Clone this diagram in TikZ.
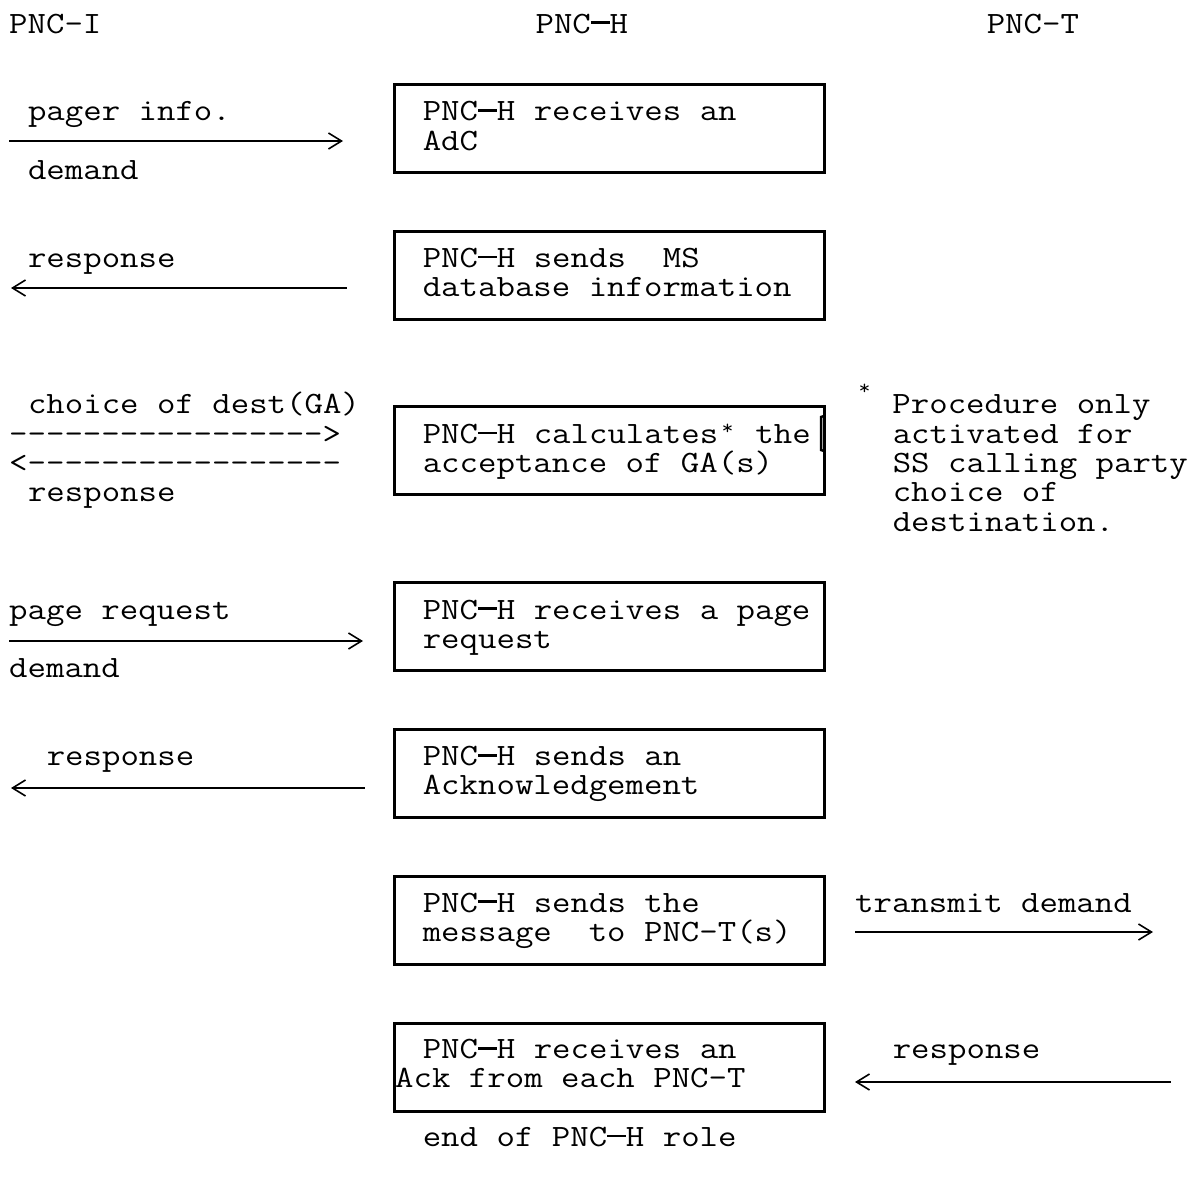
\documentclass[tikz,border=0pt]{standalone}
\usepackage{fontspec}
\usetikzlibrary{arrows.meta}
\newcommand\tx[1]{\scalebox{1.155}[1]{#1}}
\newcommand\emd{\makebox[16.275pt]{\rule[9pt]{16.275pt}{2.6pt}}}
\newcommand\boxstar{\makebox[16.275pt]{\raisebox{9pt}{\fontsize{20}{20}\selectfont *}}}
\newcommand\notestar{\makebox[16.275pt]{\raisebox{19pt}{\fontsize{20}{20}\selectfont *}}}
\begin{document}
\begin{tikzpicture}[x=1pt,y=-1pt,
  txt/.style={font=\ttfamily\fontsize{31}{29.3}\selectfont, inner sep=0pt, anchor=base west},
  pbox/.style={draw, line width=2.5pt, minimum width=430pt, minimum height=88pt, anchor=north west, inner sep=0pt},
  conn/.style={line width=2pt},
  tipR/.style={conn, -{Straight Barb[length=13pt,width=16pt,line width=1.6pt]}},
  tipL/.style={conn, {Straight Barb[length=13pt,width=16pt,line width=1.6pt]}-}
]
\fill[white] (0,0) rectangle (1192,1178);
\useasboundingbox (0,0) rectangle (1192,1178);

% headers
\node[txt] (hI) at (9,33) {\tx{PNC-I}};
\node[txt] (hH) at (535.4,33) {\tx{PNC\emd H}};
\node[txt] (hT) at (986.6,33) {\tx{PNC-T}};

% boxes
\node[pbox] (b1) at (393,83) {};
\node[pbox] (b2) at (393,230) {};
\node[pbox] (b3) at (393,405) {};
\node[pbox] (b4) at (393,581) {};
\node[pbox] (b5) at (393,728) {};
\node[pbox] (b6) at (393,875) {};
\node[pbox] (b7) at (393,1022) {};
\draw[line width=2.5pt] (824,416) -- (821,417) -- (821,450) -- (824,451);

% box texts
\node[txt] (t1a) at (422.6,120.9) {\tx{PNC\emd H receives an}};
\node[txt] (t1b) at (422.6,150.2) {\tx{AdC}};
\node[txt] (t2a) at (422.6,267.4) {\tx{PNC\emd H sends\ \ MS}};
\node[txt] (t2b) at (422.6,296.7) {\tx{database information}};
\node[txt] (t3a) at (422.6,443.2) {\tx{PNC\emd H calculates\boxstar\ the}};
\node[txt] (t3b) at (422.6,472.5) {\tx{acceptance of GA(s)}};
\node[txt] (t4a) at (422.6,619) {\tx{PNC\emd H receives a page}};
\node[txt] (t4b) at (422.6,648.3) {\tx{request}};
\node[txt] (t5a) at (422.6,765.5) {\tx{PNC\emd H sends an}};
\node[txt] (t5b) at (422.6,794.8) {\tx{Acknowledgement}};
\node[txt] (t6a) at (422.6,912) {\tx{PNC\emd H sends the}};
\node[txt] (t6b) at (422.6,941.3) {\tx{message\ \ to PNC-T(s)}};
\node[txt] (t7a) at (422.6,1058.5) {\tx{PNC\emd H receives an}};
\node[txt] (t7b) at (395,1087.8) {\tx{Ack from each PNC-T}};
\node[txt] (tend) at (422.6,1146.4) {\tx{end of PNC\emd H role}};

% left side labels
\node[txt] (l1a) at (27.8,120.9) {\tx{pager info.}};
\node[txt] (l1b) at (27.8,179.5) {\tx{demand}};
\node[txt] (l2a) at (27.8,267.4) {\tx{response}};
\node[txt] (l3a) at (27.8,413.9) {\tx{choice of dest(GA)}};
\node[txt] (l3b) at (9,443.2) {\tx{----------------->}};
\node[txt] (l3c) at (9,472.5) {\tx{<-----------------}};
\node[txt] (l3d) at (27.8,501.8) {\tx{response}};
\node[txt] (l4a) at (9,619) {\tx{page request}};
\node[txt] (l4b) at (9,677.6) {\tx{demand}};
\node[txt] (l5a) at (46.6,765.5) {\tx{response}};

% right side labels
\node[txt] (n1) at (855,413.9) {\tx{\notestar\ Procedure only}};
\node[txt] (n2) at (892.6,443.2) {\tx{activated for}};
\node[txt] (n3) at (892.6,472.5) {\tx{SS calling party}};
\node[txt] (n4) at (892.6,501.8) {\tx{choice of}};
\node[txt] (n5) at (892.6,531.1) {\tx{destination.}};
\node[txt] (r6) at (855,912) {\tx{transmit demand}};
\node[txt] (r7) at (892.6,1058.5) {\tx{response}};

% connectors
\coordinate (a1s) at (9,141);    \coordinate (a1e) at (343,141);
\coordinate (a2s) at (11,288);   \coordinate (a2e) at (347,288);
\coordinate (a4s) at (9,641);    \coordinate (a4e) at (363,641);
\coordinate (a5s) at (11,788);   \coordinate (a5e) at (365,788);
\coordinate (a6s) at (855,932);  \coordinate (a6e) at (1153,932);
\coordinate (a7s) at (855,1082); \coordinate (a7e) at (1171,1082);
\draw[tipR] (a1s) -- (a1e);
\draw[tipL] (a2s) -- (a2e);
\draw[tipR] (a4s) -- (a4e);
\draw[tipL] (a5s) -- (a5e);
\draw[tipR] (a6s) -- (a6e);
\draw[tipL] (a7s) -- (a7e);
\end{tikzpicture}
\end{document}
